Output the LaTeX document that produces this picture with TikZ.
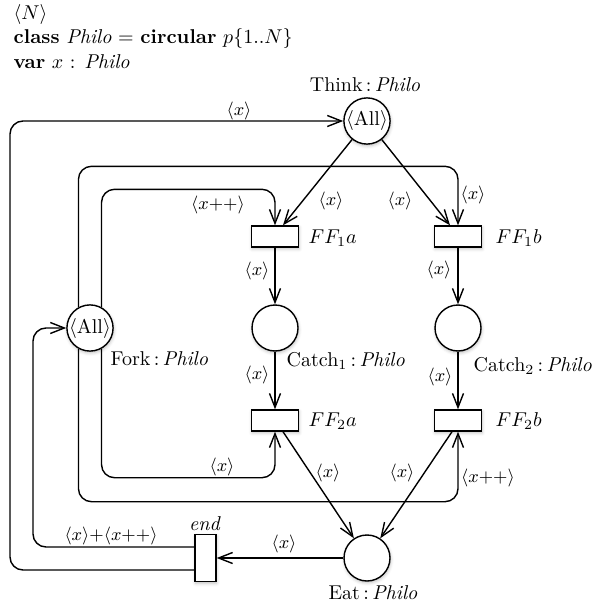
\documentclass[tikz,border=0pt]{standalone}
\usetikzlibrary{arrows.meta,calc,shadows,shadows.blur}
\begin{document}
\begin{tikzpicture}[x=0.5pt,y=-0.5pt,
  line width=0.7pt,
  soft/.style={blur shadow={shadow xshift=0.3pt, shadow yshift=-0.9pt, shadow blur radius=1.6pt, shadow opacity=25}},
  pl/.style={circle, draw, fill=white, minimum size=23pt, inner sep=0pt, soft},
  tr/.style={rectangle, draw, fill=white, minimum width=23.5pt, minimum height=10.5pt, inner sep=0pt, soft},
  endtr/.style={tr, minimum width=10.5pt, minimum height=23.5pt},
  conn/.style={draw, -{Straight Barb[length=7pt,width=5.5pt]}, rounded corners=6.5pt},
  lab/.style={font=\small, inner sep=0pt},
  tag/.style={inner sep=0pt},
]
\useasboundingbox (0,0) rectangle (592,610);

% declarations
\node[tag, anchor=base west] (decl1) at (13,20) {$\langle N\rangle$};
\node[tag, anchor=base west] (decl2) at (13,44) {\textbf{class} \textit{Philo} $=$ \textbf{circular} $p\{1..N\}$};
\node[tag, anchor=base west] (decl3) at (13,69) {\textbf{var} $x$ : \textit{Philo}};

% places
\node[pl] (think)  at (367,121) {$\langle\mathrm{All}\rangle$};
\node[pl] (fork)   at (90,328)  {$\langle\mathrm{All}\rangle$};
\node[pl] (catch1) at (275,328) {};
\node[pl] (catch2) at (458,328) {};
\node[pl] (eat)    at (367,558) {};

% transitions
\node[tr] (ff1a) at (275,236.5) {};
\node[tr] (ff1b) at (458,236.5) {};
\node[tr] (ff2a) at (275,420.5) {};
\node[tr] (ff2b) at (458,420.5) {};
\node[endtr] (endt) at (205.5,558) {};

% place and transition names
\node[tag, anchor=base] (nthink) at (365,92) {Think\,:\,\textit{Philo}};
\node[tag, anchor=base west] (nfork) at (110,365) {Fork\,:\,\textit{Philo}};
\node[tag, anchor=base west] (ncatch1) at (286,366) {Catch$_1$\,:\,\textit{Philo}};
\node[tag, anchor=base west] (ncatch2) at (473,371) {Catch$_2$\,:\,\textit{Philo}};
\node[tag, anchor=base] (neat) at (373,599) {Eat\,:\,\textit{Philo}};
\node[tag, anchor=base west] (nff1a) at (308,243) {$FF_1a$};
\node[tag, anchor=base west] (nff1b) at (495,243) {$FF_1b$};
\node[tag, anchor=base west] (nff2a) at (308,426) {$FF_2a$};
\node[tag, anchor=base west] (nff2b) at (495,426) {$FF_2b$};
\node[tag, anchor=base] (nend) at (205,530) {\textit{end}};

% rails for the two return arcs
\coordinate (railA) at (10,0);
\coordinate (railB) at (33,0);

% arcs
\draw[conn] (think) -- ([xshift=4pt]ff1a.north);
\draw[conn] (think) -- ([xshift=-4pt]ff1b.north);
\draw[conn] (ff1a) -- (catch1);
\draw[conn] (ff1b) -- (catch2);
\draw[conn] (catch1) -- (ff2a);
\draw[conn] (catch2) -- (ff2b);
\draw[conn] ([xshift=4pt]ff2a.south) -- (eat);
\draw[conn] ([xshift=-3pt]ff2b.south) -- (eat);
\draw[conn] (eat) -- (endt);
\draw[conn] ($(endt.west)+(0,12)$) -| (railA |- think.west) -- (think.west);
\draw[conn] ($(endt.west)+(0,-11)$) -| (railB |- fork.west) -- (fork.west);
\draw[conn] (fork.61) |- ($(ff1a.north)+(0,-36)$) -- (ff1a.north);
\draw[conn] (fork.119) |- ($(ff1b.north)+(0,-59)$) -- (ff1b.north);
\draw[conn] (fork.-61) |- ($(ff2a.south)+(0,46)$) -- (ff2a.south);
\draw[conn] (fork.-119) |- ($(ff2b.south)+(0,70)$) -- (ff2b.south);

% arc inscriptions
\node[lab] (i1)  at (239,111) {$\langle x\rangle$};
\node[lab] (i2)  at (331,201) {$\langle x\rangle$};
\node[lab] (i3)  at (400,201) {$\langle x\rangle$};
\node[lab] (i4)  at (473,195) {$\langle x\rangle$};
\node[lab] (i5)  at (218,205) {$\langle x{+}{+}\rangle$};
\node[lab] (i6)  at (257,271) {$\langle x\rangle$};
\node[lab] (i7)  at (439,270) {$\langle x\rangle$};
\node[lab] (i8)  at (257,375) {$\langle x\rangle$};
\node[lab] (i9)  at (440,377) {$\langle x\rangle$};
\node[lab] (i10) at (222,467) {$\langle x\rangle$};
\node[lab] (i11) at (328,473) {$\langle x\rangle$};
\node[lab] (i12) at (402,473) {$\langle x\rangle$};
\node[lab] (i13) at (488,478) {$\langle x{+}{+}\rangle$};
\node[lab] (i14) at (284,544) {$\langle x\rangle$};
\node[lab] (i15) at (111,536) {$\langle x\rangle{+}\langle x{+}{+}\rangle$};
\end{tikzpicture}
\end{document}
